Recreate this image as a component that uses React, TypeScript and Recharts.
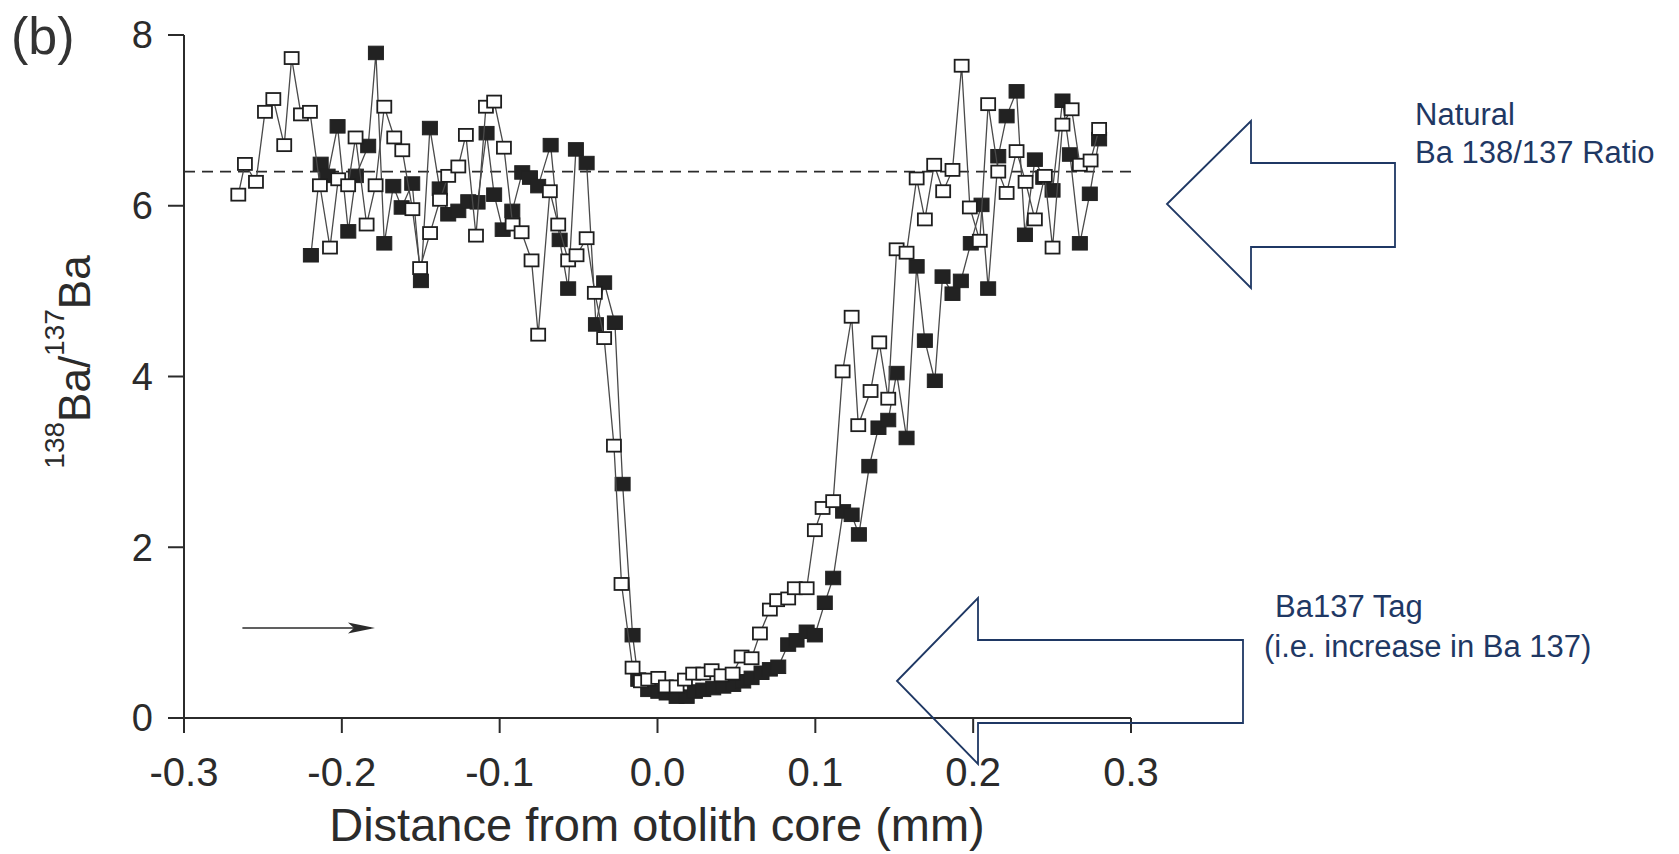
import React from 'react';
import { ComposedChart, Scatter, XAxis, YAxis, ReferenceLine } from 'recharts';

// ---- data ----
const openX = [
  -0.2656, -0.2614, -0.2544, -0.2487, -0.2434, -0.2365, -0.2318, -0.2259, -0.2202, -0.2139,
  -0.2075, -0.2023, -0.196, -0.1913, -0.1843, -0.1786, -0.1731, -0.1668, -0.1617, -0.1553,
  -0.1504, -0.1441, -0.1378, -0.1326, -0.1262, -0.1214, -0.115, -0.1087, -0.1035, -0.0973,
  -0.0918, -0.0861, -0.0798, -0.0756, -0.0682, -0.0629, -0.0566, -0.0513, -0.0449, -0.0397,
  -0.0338, -0.0276, -0.0228, -0.0158, -0.0105, -0.0059, 0.0005, 0.0053, 0.0121, 0.0174,
  0.0226, 0.029, 0.0343, 0.0406, 0.0476, 0.0533, 0.0596, 0.0649, 0.0712, 0.0758,
  0.0828, 0.087, 0.0945, 0.0997, 0.1046, 0.1113, 0.1173, 0.123, 0.1272, 0.135,
  0.1405, 0.1462, 0.1515, 0.1578, 0.1642, 0.1694, 0.1753, 0.181, 0.1869, 0.1927,
  0.1979, 0.2042, 0.2095, 0.2159, 0.2212, 0.2275, 0.2332, 0.2391, 0.2454, 0.2503,
  0.2566, 0.2624, 0.2676, 0.2744, 0.2798,
];
const openY = [
  6.13, 6.49, 6.28, 7.1, 7.25, 6.71, 7.73, 7.07, 7.1, 6.24,
  5.51, 6.31, 6.24, 6.8, 5.78, 6.24, 7.16, 6.8, 6.65, 5.96,
  5.27, 5.68, 6.07, 6.35, 6.46, 6.83, 5.65, 7.16, 7.22, 6.68,
  5.78, 5.69, 5.36, 4.49, 6.17, 5.78, 5.36, 5.42, 5.62, 4.98,
  4.45, 3.19, 1.57, 0.59, 0.43, 0.45, 0.47, 0.37, 0.37, 0.45,
  0.52, 0.52, 0.56, 0.5, 0.52, 0.72, 0.7, 0.99, 1.27, 1.38,
  1.4, 1.52, 1.52, 2.2, 2.46, 2.54, 4.06, 4.7, 3.43, 3.83,
  4.4, 3.74, 5.49, 5.45, 6.32, 5.84, 6.48, 6.17, 6.42, 7.64,
  5.98, 5.59, 7.19, 6.4, 6.15, 6.64, 6.28, 5.84, 6.35, 5.51,
  6.95, 7.13, 6.48, 6.53, 6.9,
];
const filledX = [
  -0.2196, -0.2134, -0.209, -0.2027, -0.1959, -0.1911, -0.1833, -0.1784, -0.1731, -0.1674,
  -0.1621, -0.1554, -0.1499, -0.1442, -0.138, -0.1326, -0.1262, -0.1199, -0.114, -0.1083,
  -0.1035, -0.0981, -0.092, -0.0857, -0.0808, -0.0756, -0.0677, -0.062, -0.0566, -0.0517,
  -0.0449, -0.039, -0.0338, -0.027, -0.0221, -0.0158, -0.0122, -0.0059, 0.0005, 0.0058,
  0.0121, 0.0185, 0.0237, 0.029, 0.0353, 0.0417, 0.048, 0.0543, 0.0596, 0.0659,
  0.0712, 0.0765, 0.0828, 0.0881, 0.0945, 0.0997, 0.106, 0.1113, 0.1176, 0.123,
  0.1276, 0.1342, 0.14, 0.1462, 0.1515, 0.1578, 0.1642, 0.1694, 0.1757, 0.1806,
  0.1869, 0.1922, 0.1985, 0.2053, 0.2095, 0.2159, 0.2212, 0.2275, 0.2328, 0.2391,
  0.2444, 0.2503, 0.2566, 0.2613, 0.2676, 0.2739, 0.2798,
];
const filledY = [
  5.42, 6.49, 6.35, 6.93, 5.7, 6.35, 6.7, 7.79, 5.56, 6.23,
  5.98, 6.26, 5.12, 6.91, 6.2, 5.9, 5.94, 6.05, 6.04, 6.85,
  6.13, 5.72, 5.94, 6.39, 6.33, 6.23, 6.71, 5.6, 5.03, 6.66,
  6.5, 4.61, 5.1, 4.63, 2.74, 0.97, 0.45, 0.33, 0.31, 0.29,
  0.25, 0.25, 0.31, 0.33, 0.35, 0.37, 0.39, 0.43, 0.47, 0.53,
  0.57, 0.6, 0.86, 0.91, 1.01, 0.97, 1.35, 1.64, 2.42, 2.38,
  2.15, 2.95, 3.4, 3.49, 4.04, 3.28, 5.29, 4.42, 3.95, 5.17,
  4.97, 5.12, 5.56, 6.01, 5.03, 6.58, 7.05, 7.34, 5.66, 6.54,
  6.33, 6.18, 7.23, 6.6, 5.56, 6.14, 6.78,
];
const xTicks = [-0.3, -0.2, -0.1, 0, 0.1, 0.2, 0.3];
const xTickLabels = ['-0.3', '-0.2', '-0.1', '0.0', '0.1', '0.2', '0.3'];
const yTicks = [0, 2, 4, 6, 8];
const naturalRatio = 6.4;
const smallArrowX = [-0.263, -0.179];
const smallArrowY = 1.055;

const openData = openX.map((x, i) => ({ x, y: openY[i] }));
const filledData = filledX.map((x, i) => ({ x, y: filledY[i] }));

const FONT = '"Liberation Sans", Arial, Helvetica, sans-serif';
const INK = '#2b2b2b';
const NAVY = '#1f3864';

const OpenSquare = (p: any) => (
  <rect x={p.cx - 7} y={p.cy - 6} width={14} height={12} fill="#ffffff" stroke="#1e1e1e" strokeWidth={1.8} />
);
const FilledSquare = (p: any) => (
  <rect x={p.cx - 7.5} y={p.cy - 6.75} width={15} height={13.5} fill="#222222" stroke="#222222" strokeWidth={1} />
);

const ArrowShape = (p: any) => {
  const { x1, y1, x2, y2 } = p;
  if (x1 == null) return null;
  return (
    <g>
      <line x1={x1} y1={y1} x2={x2 - 4} y2={y2} stroke={INK} strokeWidth={1.6} />
      <polygon
        points={`${x2},${y2} ${x2 - 27},${y2 - 5.5} ${x2 - 21},${y2} ${x2 - 27},${y2 + 5.5}`}
        fill={INK}
      />
    </g>
  );
};

export default function App() {
  return (
    <div style={{ position: 'absolute', left: 0, top: 0, width: 1679, height: 854, background: '#fff' }}>
      <ComposedChart
        width={1679}
        height={854}
        margin={{ top: 35, right: 548, left: 64, bottom: 56 }}
      >
        <XAxis
          dataKey="x"
          type="number"
          domain={[-0.3, 0.3]}
          ticks={xTicks}
          tickFormatter={(v: number) => xTickLabels[xTicks.findIndex((t) => Math.abs(t - v) < 1e-9)] ?? String(v)}
          allowDataOverflow
          height={80}
          tickSize={15}
          tickMargin={25}
          axisLine={{ stroke: INK, strokeWidth: 2 }}
          tickLine={{ stroke: INK, strokeWidth: 2 }}
          tick={{ fill: INK, fontSize: 40, fontFamily: FONT }}
        />
        <YAxis
          dataKey="y"
          type="number"
          domain={[0, 8]}
          ticks={yTicks}
          allowDataOverflow
          width={120}
          tickSize={16}
          tickMargin={15}
          axisLine={{ stroke: INK, strokeWidth: 2 }}
          tickLine={{ stroke: INK, strokeWidth: 2 }}
          tick={{ fill: INK, fontSize: 38, fontFamily: FONT }}
        />
        <ReferenceLine y={naturalRatio} stroke={INK} strokeWidth={1.8} strokeDasharray="11 7" />
        <ReferenceLine
          segment={[
            { x: smallArrowX[0], y: smallArrowY },
            { x: smallArrowX[1], y: smallArrowY },
          ]}
          shape={ArrowShape}
          stroke={INK}
        />
        <Scatter
          data={filledData}
          dataKey="y"
          shape={FilledSquare}
          line={{ stroke: '#4a4a4a', strokeWidth: 1.3 }}
          lineType="joint"
          isAnimationActive={false}
        />
        <Scatter
          data={openData}
          dataKey="y"
          shape={OpenSquare}
          line={{ stroke: '#4a4a4a', strokeWidth: 1.3 }}
          lineType="joint"
          isAnimationActive={false}
        />
      </ComposedChart>
      <svg
        width={1679}
        height={854}
        style={{ position: 'absolute', left: 0, top: 0, pointerEvents: 'none' }}
      >
        <text x={11} y={54} fontSize={52} fontFamily={FONT} fill="#333">(b)</text>
        <text
          x={90}
          y={362}
          transform="rotate(-90, 90, 362)"
          textAnchor="middle"
          fontFamily={FONT}
          fill={INK}
        >
          <tspan fontSize={28} dy={-26}>138</tspan>
          <tspan fontSize={44} dy={26}>Ba/</tspan>
          <tspan fontSize={28} dy={-26}>137</tspan>
          <tspan fontSize={44} dy={26}>Ba</tspan>
        </text>
        <text x={657} y={841} textAnchor="middle" fontSize={47} fontFamily={FONT} fill={INK}>
          Distance from otolith core (mm)
        </text>
        <polygon
          points="1167,204 1251,121 1251,163 1395,163 1395,247 1251,247 1251,288"
          fill="none"
          stroke={NAVY}
          strokeWidth={1.8}
        />
        <text x={1415} y={125} fontSize={31} fontFamily={FONT} fill={NAVY}>Natural</text>
        <text x={1415} y={163} fontSize={31} fontFamily={FONT} fill={NAVY}>Ba 138/137 Ratio</text>
        <polygon
          points="897,681 978,598 978,640 1243,640 1243,723 978,723 978,764"
          fill="none"
          stroke={NAVY}
          strokeWidth={1.8}
        />
        <text x={1275} y={617} fontSize={31} fontFamily={FONT} fill={NAVY}>Ba137 Tag</text>
        <text x={1264} y={657} fontSize={31} fontFamily={FONT} fill={NAVY}>(i.e. increase in Ba 137)</text>
      </svg>
    </div>
  );
}
